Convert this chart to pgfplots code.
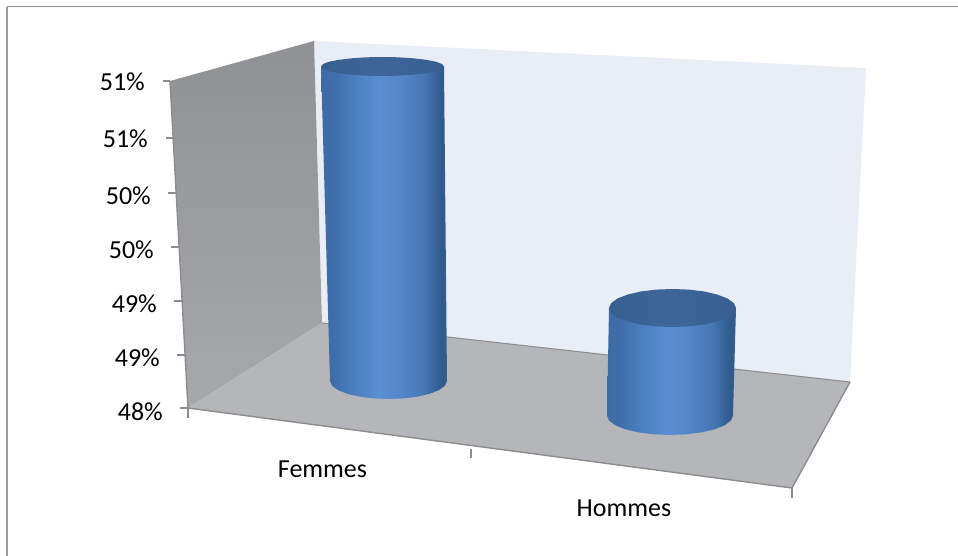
\documentclass[border=0pt]{standalone}
\usepackage{fontspec}
\setmainfont{Carlito}
\usepackage{pgfplots}
\pgfplotsset{compat=1.18}
\definecolor{wallback}{HTML}{E9EDF6}
\definecolor{floorc}{HTML}{B4B6B9}
\definecolor{walltop}{HTML}{8F9194}
\definecolor{wallbot}{HTML}{A6A8AA}
\definecolor{edgec}{HTML}{8C8C8C}
\definecolor{cA}{HTML}{3F6BA3}
\definecolor{cB}{HTML}{3E6EAB}
\definecolor{cC}{HTML}{4A7DBD}
\definecolor{cD}{HTML}{5A8ED2}
\definecolor{cE}{HTML}{5587CA}
\definecolor{cF}{HTML}{4577B4}
\definecolor{cG}{HTML}{2F5A8B}
\definecolor{cH}{HTML}{3A608C}
\definecolor{tA}{HTML}{365E90}
\definecolor{tB}{HTML}{3E6698}
\pgfdeclarehorizontalshading{cylbody}{100bp}{
 color(0bp)=(cA); color(25bp)=(cA); color(30bp)=(cB); color(37bp)=(cC); color(48bp)=(cD);
 color(56bp)=(cE); color(66bp)=(cF); color(73bp)=(cG); color(75bp)=(cH); color(100bp)=(cH)}
\pgfdeclarehorizontalshading{cyltop}{100bp}{
 color(0bp)=(tA); color(25bp)=(tA); color(50bp)=(tB); color(75bp)=(tA); color(100bp)=(tA)}
\begin{document}
\begin{tikzpicture}
\begin{axis}[
  scale only axis, width=958pt, height=556pt,
  xmin=0, xmax=958, ymin=0, ymax=556, y dir=reverse,
  hide axis, clip=false,
  every axis plot/.append style={line join=round},
]
\path[use as bounding box] (axis cs:0,0) rectangle (axis cs:958,556);
% frame
\addplot[draw=black!45, line width=1pt] coordinates {(7,7) (958,7)};
\addplot[draw=black!38, line width=2pt] coordinates {(7,7) (7,556)};
% walls
\addplot[draw=none, fill=wallback] coordinates {(314,41) (866,68) (850,382) (322,323)} -- cycle;
\addplot[draw=none, top color=walltop, bottom color=wallbot] coordinates {(170,81) (314,41) (322,323) (188,408)} -- cycle;
\addplot[draw=none, fill=floorc] coordinates {(322,323) (850,382) (792,488) (188,408)} -- cycle;
% floor edges and axes
\addplot[draw=edgec, line width=1pt] coordinates {(322,323) (850,382)};
\addplot[draw=edgec, line width=1.4pt] coordinates {(850,382) (792,488) (188,408) (170,81)};
% y ticks
\addplot[draw=edgec, line width=1.4pt] coordinates {(163,81) (170,81)};
\addplot[draw=edgec, line width=1.4pt] coordinates {(166,138) (173,138)};
\addplot[draw=edgec, line width=1.4pt] coordinates {(168,193) (176,193)};
\addplot[draw=edgec, line width=1.4pt] coordinates {(171,247) (179,247)};
\addplot[draw=edgec, line width=1.4pt] coordinates {(174,301) (182,301)};
\addplot[draw=edgec, line width=1.4pt] coordinates {(177,355) (185,355)};
\addplot[draw=edgec, line width=1.4pt] coordinates {(180,408) (188,408)};
% x ticks
\addplot[draw=edgec, line width=1.4pt] coordinates {(188,408) (188,418)};
\addplot[draw=edgec, line width=1.4pt] coordinates {(471,449) (471,458)};
\addplot[draw=edgec, line width=1.4pt] coordinates {(792,488) (792,498)};
% cylinder Femmes
\addplot[draw=none, shading=cylbody] coordinates {(321,66.5) (444,66.5) (447,381) (445,385.7) (439.2,390) (429.9,393.7) (417.8,396.6) (403.6,398.4) (388.5,399) (373.4,398.4) (359.2,396.6) (347.1,393.7) (337.8,390) (332,385.7) (330,381)} -- cycle;
\addplot[draw=none, shading=cyltop] coordinates {(321,66.5) (323.1,64) (329.2,61.7) (339,59.8) (351.7,58.3) (366.6,57.3) (382.5,57) (398.4,57.3) (413.3,58.3) (426,59.8) (435.8,61.7) (441.9,64) (444,66.5) (441.9,69) (435.8,71.3) (426,73.2) (413.3,74.7) (398.4,75.7) (382.5,76) (366.6,75.7) (351.7,74.7) (339,73.2) (329.2,71.3) (323.1,69)} -- cycle;
% cylinder Hommes
\addplot[draw=none, shading=cylbody] coordinates {(609,308) (736,308) (733,415.5) (730.9,420.5) (724.6,425.3) (714.5,429.3) (701.5,432.4) (686.3,434.3) (670,435) (653.7,434.3) (638.5,432.4) (625.5,429.3) (615.4,425.3) (609.1,420.5) (607,415.5)} -- cycle;
\addplot[draw=none, shading=cyltop] coordinates {(609,308) (611.2,303.1) (617.5,298.5) (627.6,294.6) (640.7,291.5) (656.1,289.6) (672.5,289) (688.9,289.6) (704.3,291.5) (717.4,294.6) (727.5,298.5) (733.8,303.1) (736,308) (733.8,312.9) (727.5,317.5) (717.4,321.4) (704.3,324.5) (688.9,326.4) (672.5,327) (656.1,326.4) (640.7,324.5) (627.6,321.4) (617.5,317.5) (611.2,312.9)} -- cycle;
% labels
\def\fs{\fontsize{26}{30}\selectfont}
\node[anchor=east, inner sep=0pt, font=\fs] at (axis cs:145,82) {51\%};
\node[anchor=east, inner sep=0pt, font=\fs] at (axis cs:148,139) {51\%};
\node[anchor=east, inner sep=0pt, font=\fs] at (axis cs:151,196) {50\%};
\node[anchor=east, inner sep=0pt, font=\fs] at (axis cs:154,250) {50\%};
\node[anchor=east, inner sep=0pt, font=\fs] at (axis cs:157,304) {49\%};
\node[anchor=east, inner sep=0pt, font=\fs] at (axis cs:160,358) {49\%};
\node[anchor=east, inner sep=0pt, font=\fs] at (axis cs:163,412) {48\%};
\node[anchor=center, inner sep=0pt, font=\fs] at (axis cs:322.5,469) {Femmes};
\node[anchor=center, inner sep=0pt, font=\fs] at (axis cs:624,508) {Hommes};
\end{axis}
\end{tikzpicture}
\end{document}
